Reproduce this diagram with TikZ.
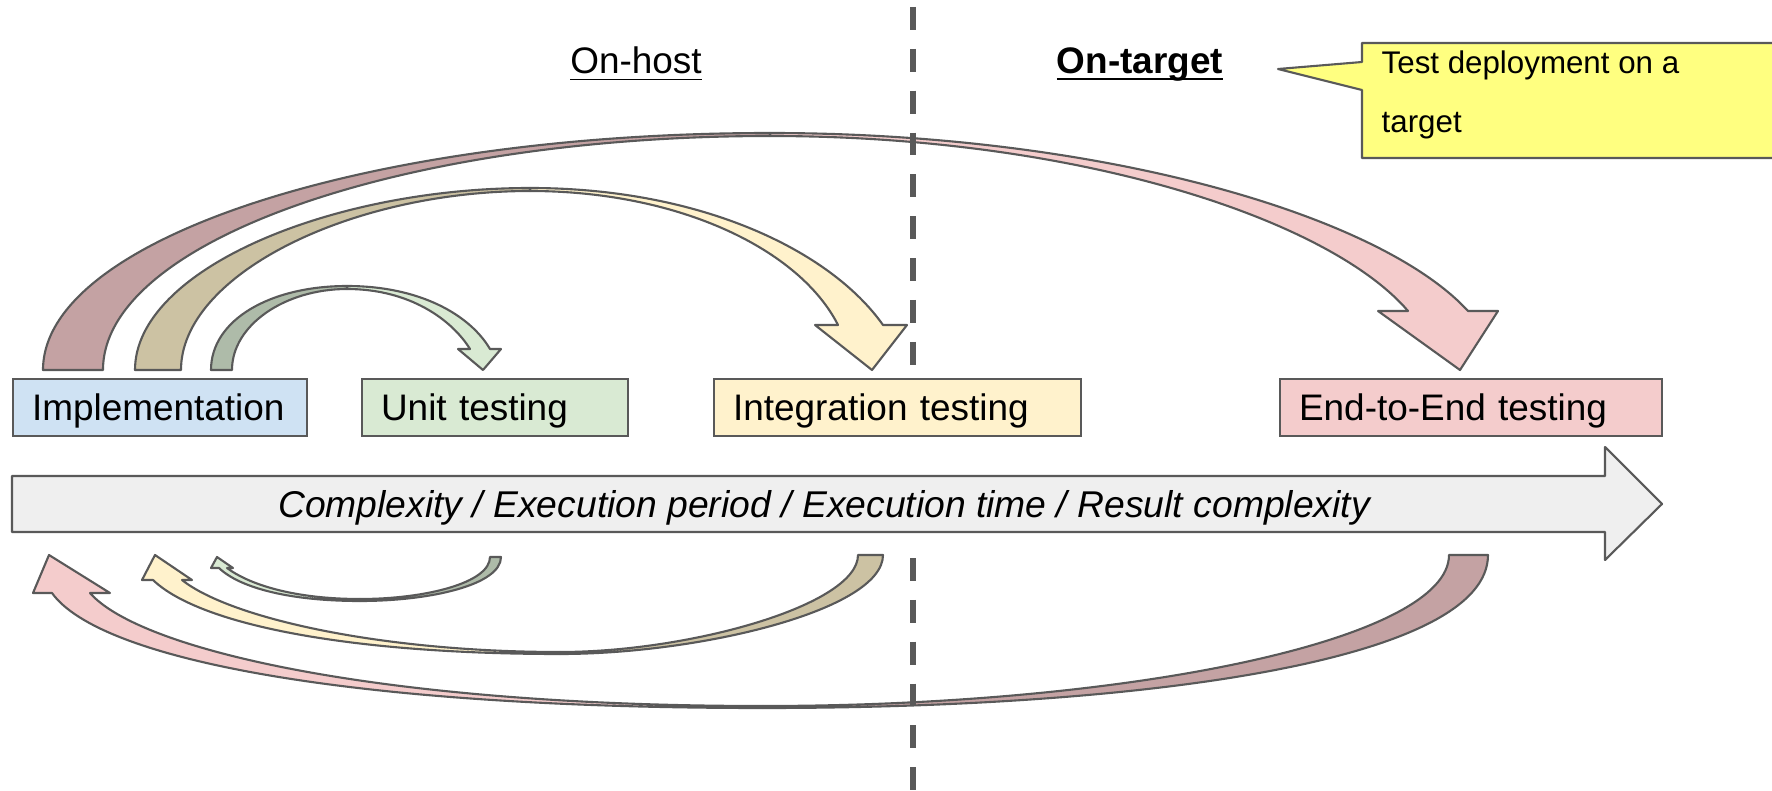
\documentclass[tikz,border=0pt]{standalone}
\usepackage{fontspec}
\setmainfont{Liberation Sans}
\usetikzlibrary{positioning}

\definecolor{edgegray}{HTML}{595959}
\definecolor{boxblue}{HTML}{CFE2F3}
\definecolor{boxgreen}{HTML}{D9EAD3}
\definecolor{boxyellow}{HTML}{FFF2CC}
\definecolor{boxpink}{HTML}{F4CCCC}
\definecolor{darkgreen}{HTML}{AEBBA9}
\definecolor{darkyellow}{HTML}{CCC2A3}
\definecolor{darkpink}{HTML}{C4A2A3}
\definecolor{axisgray}{HTML}{EFEFEF}
\definecolor{noteyellow}{HTML}{FFFF80}

\newcommand{\boxfont}{\fontsize{10.5}{12.6}\selectfont}
\newcommand{\notefont}{\fontsize{8.9}{16.9}\selectfont}

\begin{document}
\begin{tikzpicture}[x=0.01cm,y=-0.01cm,
  band/.style={draw=edgegray, line width=0.6pt, line join=round},
  stage/.style={draw=edgegray, line width=0.6pt, anchor=north west, minimum height=0.57cm,
    inner xsep=0.19cm, inner ysep=0pt, text height=9pt, text depth=1.6pt, align=left, font=\boxfont},
  heading/.style={anchor=base, inner sep=0pt, font=\boxfont},
  divider/.style={draw=edgegray, line width=1.7pt, dash pattern=on 6.5pt off 5.4pt}]
\useasboundingbox (0,0) rectangle (1772,791);

% forward arrows (top)
\filldraw[band, fill=boxpink] (770,133) .. controls (1100,133) and (1380,215) .. (1468,311) -- (1498,311) -- (1460,370) -- (1378,311) -- (1408,311) .. controls (1330,220) and (1080,136) .. (770,136) -- cycle;
\filldraw[band, fill=darkpink] (43,370) .. controls (43,239) and (368,133) .. (770,133) -- (770,136) .. controls (402,136) and (103,241) .. (103,370) -- cycle;

\filldraw[band, fill=boxyellow] (530,188) .. controls (700,188) and (830,250) .. (883,325) -- (907,325) -- (872,370) -- (815,325) -- (838,325) .. controls (800,250) and (680,191) .. (530,191) -- cycle;
\filldraw[band, fill=darkyellow] (135,370) .. controls (135,270) and (330,188) .. (530,188) -- (530,191) .. controls (350,191) and (181,275) .. (181,370) -- cycle;

\filldraw[band, fill=boxgreen] (347,286) .. controls (420,286) and (470,315) .. (490,349) -- (501,349) -- (483,370) -- (458,349) -- (470,349) .. controls (452,320) and (410,289) .. (347,289) -- cycle;
\filldraw[band, fill=darkgreen] (211,370) .. controls (211,320) and (270,286) .. (347,286) -- (347,289) .. controls (285,289) and (232,325) .. (232,370) -- cycle;

% backward arrows (bottom)
\filldraw[band, fill=boxpink] (763,708) .. controls (350,708) and (100,660) .. (52,593) -- (33,593) -- (49,555) -- (110,593) -- (90,593) .. controls (140,650) and (380,706) .. (763,706) -- cycle;
\filldraw[band, fill=darkpink] (1488,555) .. controls (1488,660) and (1150,708) .. (763,708) -- (763,706) .. controls (1130,706) and (1449,640) .. (1449,555) -- cycle;

\filldraw[band, fill=boxyellow] (560,654) .. controls (350,654) and (200,625) .. (153,580) -- (142,580) -- (155,555) -- (192,580) -- (182,580) .. controls (230,618) and (380,652) .. (560,652) -- cycle;
\filldraw[band, fill=darkyellow] (883,555) .. controls (883,610) and (700,654) .. (560,654) -- (560,652) .. controls (690,652) and (858,605) .. (858,555) -- cycle;

\filldraw[band, fill=boxgreen] (360,601) .. controls (290,601) and (240,588) .. (219,568) -- (211,568) -- (217,557) -- (233,568) -- (227,568) .. controls (250,585) and (295,599) .. (360,599) -- cycle;
\filldraw[band, fill=darkgreen] (501,557) .. controls (501,585) and (430,601) .. (360,601) -- (360,599) .. controls (425,599) and (490,583) .. (490,557) -- cycle;

% stages
\node[stage, fill=boxblue, text width=2.56cm] (impl) at (12,378) {Implementation};
\node[stage, fill=boxgreen, text width=2.28cm] (unit) at (361,378) {Unit testing};
\node[stage, fill=boxyellow, text width=3.29cm] (integ) at (713,378) {Integration testing};
\node[stage, fill=boxpink, text width=3.44cm] (etoe) at (1279,378) {End-to-End testing};

% axis
\filldraw[band, fill=axisgray] (12,476) -- (1605,476) -- (1605,447) -- (1662,504) -- (1605,560) -- (1605,532) -- (12,532) -- cycle;
\node[heading, font=\fontsize{10.6}{12.7}\selectfont\itshape] (axis) at (824,518) {Complexity / Execution period / Execution time / Result complexity};

% headings and note
\node[heading] (host) at (636,74) {\underline{On-host}};
\node[heading, font=\boxfont\bfseries] (target) at (1140,74) {\underline{\smash{On-target}}};

\filldraw[band, fill=noteyellow] (1362,43) -- (1790,43) -- (1790,158) -- (1362,158) -- (1362,90) -- (1278,69) -- (1362,62) -- cycle;
\node[anchor=north west, align=left, inner sep=0pt, font=\notefont] (note) at (1381,50) {Test deployment on a\\target};

% host / target border
\coordinate (divA) at (913,7);
\coordinate (divB) at (913,366);
\coordinate (divC) at (913,558);
\coordinate (divD) at (913,791);
\draw[divider] (divA) -- (divB);
\draw[divider] (divC) -- (divD);

\end{tikzpicture}
\end{document}
